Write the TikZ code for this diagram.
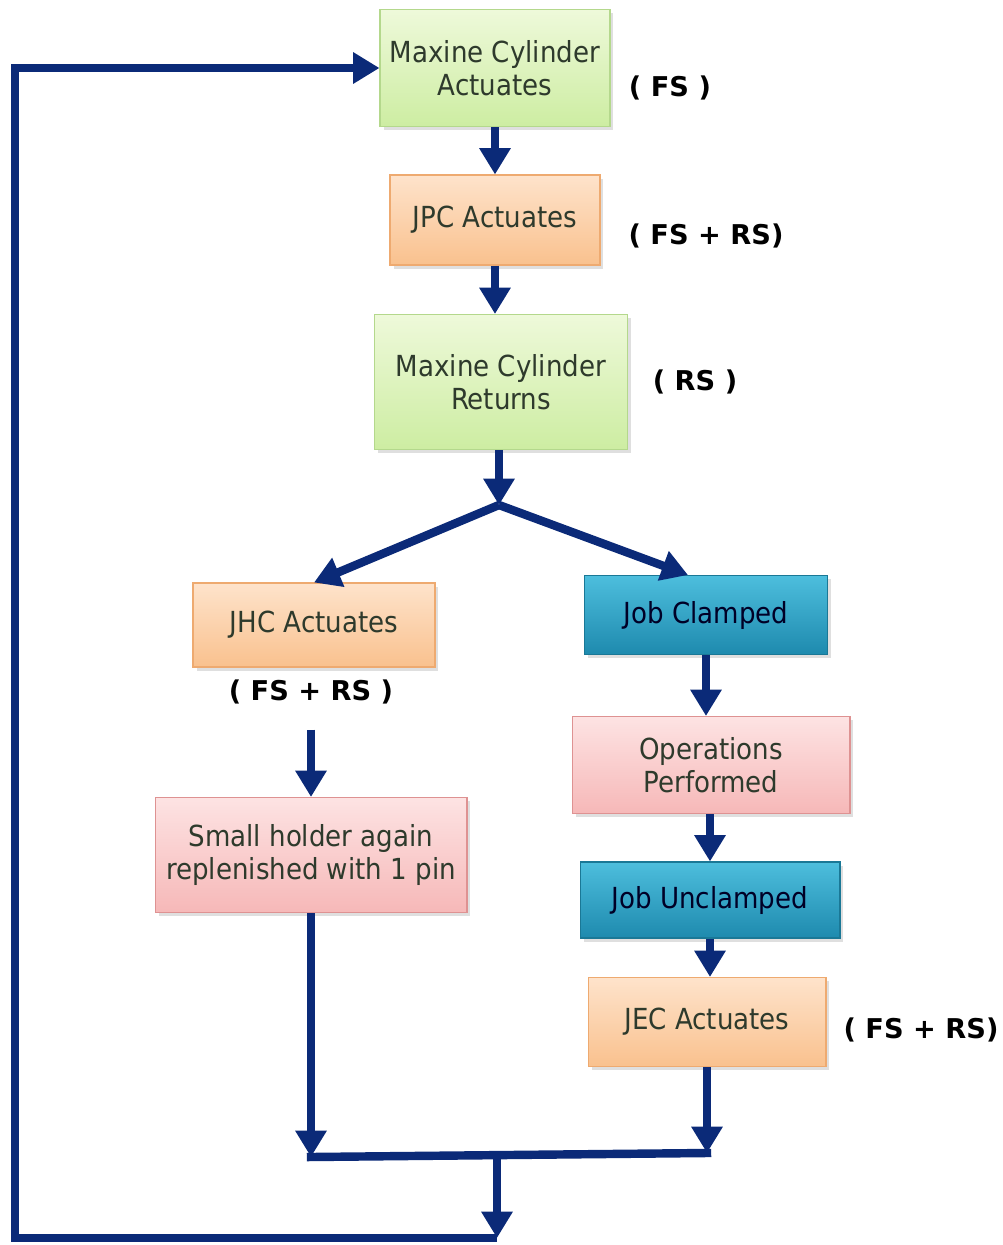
\documentclass[tikz,border=0pt]{standalone}
\usepackage{fontspec}
\setmainfont{DejaVu Sans}
\newfontfamily\boxfont{DejaVu Sans Condensed}
\usetikzlibrary{arrows.meta,shadows}
\definecolor{flowblue}{HTML}{0B2A78}
\definecolor{boxtext}{HTML}{2E3A2C}
\definecolor{greenT}{HTML}{EEF9DA}
\definecolor{greenB}{HTML}{CDEDA2}
\definecolor{greenD}{HTML}{B4D88C}
\definecolor{orangeT}{HTML}{FEE3CB}
\definecolor{orangeB}{HTML}{F9C18E}
\definecolor{orangeD}{HTML}{EEAA70}
\definecolor{tealT}{HTML}{4DBEDD}
\definecolor{tealB}{HTML}{1E8AAE}
\definecolor{tealD}{HTML}{1A7896}
\definecolor{pinkT}{HTML}{FDE3E3}
\definecolor{pinkB}{HTML}{F6B8B8}
\definecolor{pinkD}{HTML}{DE9292}
\begin{document}
\begin{tikzpicture}[x=0.02cm, y=-0.02cm,
  box/.style={draw, line width=0.6pt, align=center, inner sep=0pt,
    font=\boxfont\fontsize{16.5}{19}\selectfont, text=boxtext,
    drop shadow={opacity=0.25, shadow xshift=2pt, shadow yshift=-2pt}},
  greenbox/.style={box, draw=greenD, top color=greenT, bottom color=greenB},
  orangebox/.style={box, draw=orangeD, top color=orangeT, bottom color=orangeB},
  tealbox/.style={box, draw=tealD, top color=tealT, bottom color=tealB, text=black!85!blue},
  pinkbox/.style={box, draw=pinkD, top color=pinkT, bottom color=pinkB},
  lbl/.style={font=\bfseries\fontsize{15.5}{18}\selectfont},
  link/.style={line width=4.8pt, draw=flowblue, line cap=rect},
  flow/.style={link, line cap=butt, -{Triangle[width=17pt,length=15pt]}}]
  \useasboundingbox (0,0) rectangle (1003,1245);
  % boxes
  \node[greenbox, minimum width=4.6cm, minimum height=2.34cm] (mca) at (495,68) {Maxine Cylinder\\Actuates};
  \node[orangebox, minimum width=4.2cm, minimum height=1.8cm] (jpc) at (495,220) {JPC Actuates};
  \node[greenbox, minimum width=5.06cm, minimum height=2.7cm] (mcr) at (501,382) {Maxine Cylinder\\Returns};
  \node[orangebox, minimum width=4.84cm, minimum height=1.68cm] (jhc) at (314,625) {JHC Actuates};
  \node[tealbox, minimum width=4.86cm, minimum height=1.58cm] (jcl) at (706,615) {Job Clamped};
  \node[pinkbox, minimum width=5.56cm, minimum height=1.94cm] (ops) at (711,765) {Operations\\Performed};
  \node[tealbox, minimum width=5.2cm, minimum height=1.52cm] (jun) at (710,900) {Job Unclamped};
  \node[orangebox, minimum width=4.76cm, minimum height=1.78cm] (jec) at (707,1022) {JEC Actuates};
  \node[pinkbox, minimum width=6.24cm, minimum height=2.3cm] (shr) at (311,855) {Small holder again\\replenished with 1 pin};
  % stroke labels
  \node[lbl] (fs) at (670,88) {( FS )};
  \node[lbl] (fsrs) at (706,236) {( FS + RS)};
  \node[lbl] (rs) at (695,382) {( RS )};
  \node[lbl] (hcfsrs) at (311,692) {( FS + RS )};
  \node[lbl] (ecfsrs) at (921,1030) {( FS + RS)};
  % junctions
  \coordinate (split) at (499,505);
  \coordinate (jl) at (311,1157);
  \coordinate (jr) at (707,1153);
  \coordinate (jm) at (497,1156);
  \coordinate (bm) at (497,1238);
  \coordinate (bl) at (15,1238);
  % connectors
  \draw[flow] (mca.south) -- (jpc.north);
  \draw[flow] (jpc.south) -- (jpc.south |- mcr.north);
  \draw[flow] (mcr.south -| split) -- (split);
  \draw[flow] (split) -- (jhc.north);
  \draw[flow] (split) -- ([xshift=-0.36cm]jcl.north);
  \draw[flow] (jcl.south) -- (jcl.south |- ops.north);
  \draw[flow] (ops.south -| jun.south) -- (jun.north);
  \draw[flow] (jun.south) -- (jun.south |- jec.north);
  \draw[flow, shorten <=11pt] (hcfsrs.south) -- (hcfsrs.south |- shr.north);
  \draw[flow] (shr.south) -- (jl);
  \draw[flow] (jec.south) -- (jr);
  \draw[link] (jl) -- (jr);
  \draw[flow] (jm) -- (bm);
  \draw[flow, line join=miter] (bm) -- (bl) -- (bl |- mca.west) -- (mca.west);
\end{tikzpicture}
\end{document}
